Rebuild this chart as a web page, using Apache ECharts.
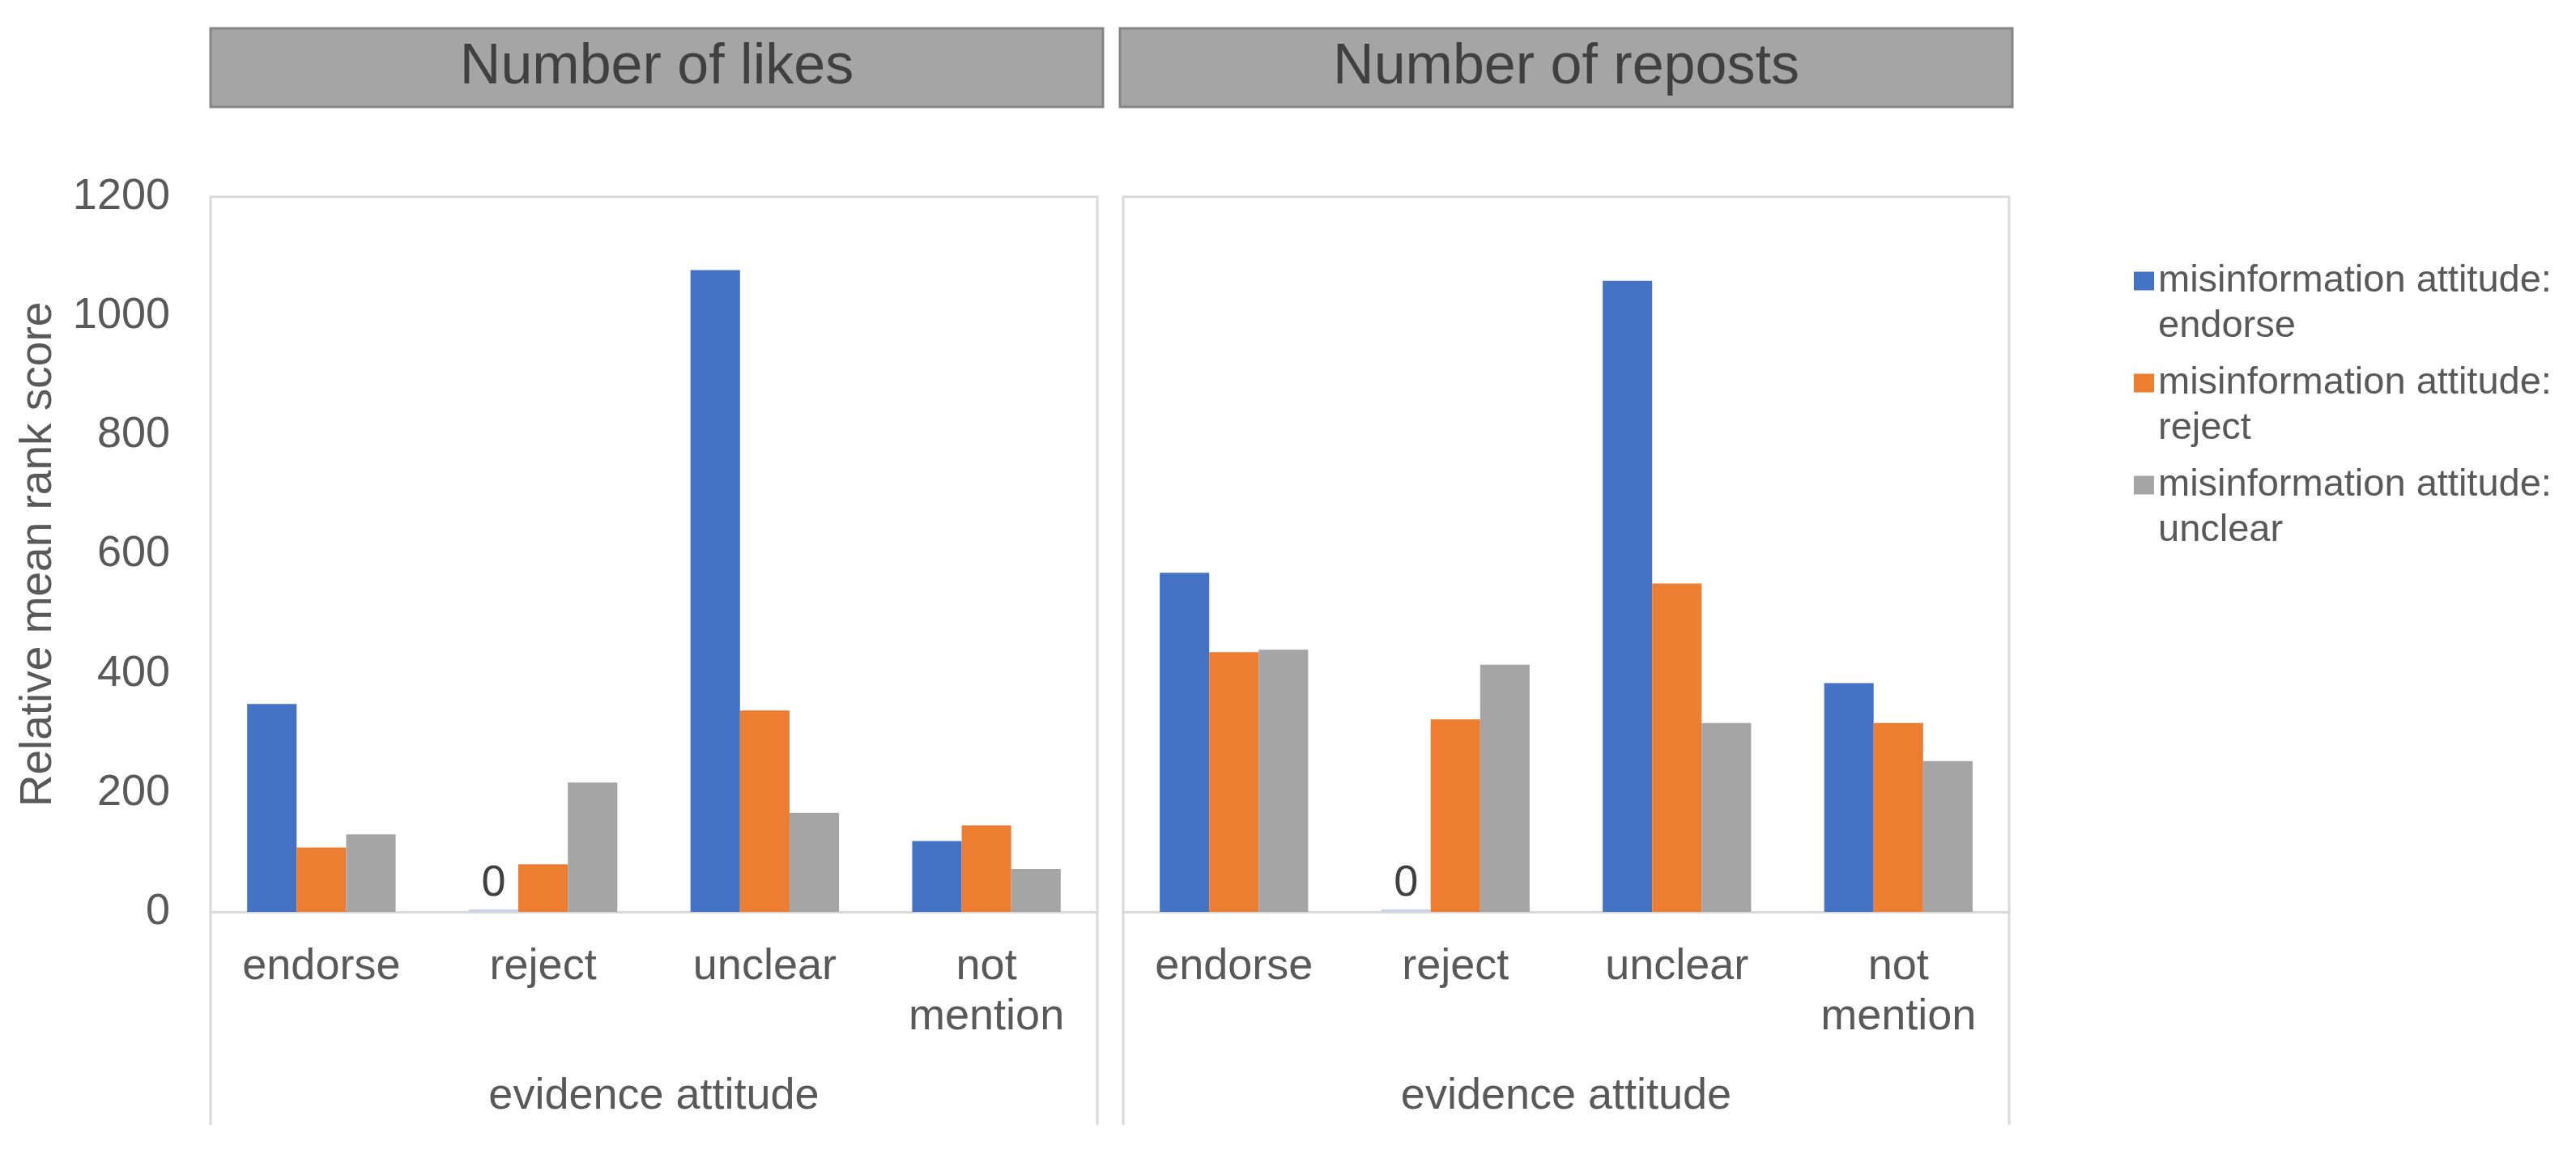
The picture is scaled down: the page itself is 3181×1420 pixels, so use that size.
<!DOCTYPE html>
<html><head><meta charset="utf-8">
<script src="https://cdn.jsdelivr.net/npm/echarts@6/dist/echarts.min.js"></script>
<style>html,body{margin:0;padding:0;background:#fff}#c{width:3181px;height:1420px}</style>
</head><body><div id="c"></div>
<script>
// ---- data ----
const categories = ['endorse', 'reject', 'unclear', 'not mention'];
const seriesNames = ['misinformation attitude: endorse', 'misinformation attitude: reject', 'misinformation attitude: unclear'];
const panelTitles = ['Number of likes', 'Number of reposts'];
const likesEndorse = [349, 0, 1077, 119];
const likesReject = [108, 80, 338, 145];
const likesUnclear = [130, 217, 166, 72];
const repostsEndorse = [569, 0, 1059, 384];
const repostsReject = [436, 323, 551, 317];
const repostsUnclear = [440, 415, 317, 253];
const yMin = 0, yMax = 1200, yInterval = 200;
const yAxisName = 'Relative mean rank score';
const xAxisName = 'evidence attitude';

// ---- styles ----
const FONT = '"Liberation Sans", Arial, sans-serif';
const colors = ['#4472c4', '#ed7d31', '#a5a5a5'];
const txt = '#595959';
const frameColor = '#d9d9d9';

function mkSeries(name, values, idx, color) {
  return {
    type: 'bar', name, xAxisIndex: idx, yAxisIndex: idx,
    barGap: '0%', barCategoryGap: '33%', barMinHeight: 3,
    itemStyle: { color },
    label: { show: false, position: 'top', distance: 5, fontSize: 54, fontFamily: FONT, color: '#404040' },
    data: values.map(v => v === 0 ? { value: 0, label: { show: true }, itemStyle: { color: '#c5d3ee' } } : v)
  };
}

function mkX(idx) {
  return {
    type: 'category', gridIndex: idx, data: categories,
    axisLine: { show: true, lineStyle: { color: frameColor, width: 3 } },
    axisTick: { show: false },
    axisLabel: { interval: 0, margin: 37, fontSize: 54, lineHeight: 62, color: txt, fontFamily: FONT,
      formatter: v => v.replace(' ', '\n') },
    name: xAxisName, nameLocation: 'middle', nameGap: 197,
    nameTextStyle: { fontSize: 54, lineHeight: 62, color: txt, fontFamily: FONT }
  };
}
function mkY(idx) {
  const a = {
    type: 'value', gridIndex: idx, min: yMin, max: yMax, interval: yInterval,
    axisLine: { show: false }, axisTick: { show: false }, splitLine: { show: false },
    axisLabel: { show: idx === 0, margin: 50, fontSize: 54, color: txt, fontFamily: FONT,
      formatter: v => String(v) }
  };
  if (idx === 0) {
    a.name = yAxisName; a.nameLocation = 'middle'; a.nameGap = 185;
    a.nameTextStyle = { fontSize: 55, lineHeight: 55, color: txt, fontFamily: FONT };
  }
  return a;
}

const frames = [[260, 1355], [1387, 2481]];
const boxes = [[260, 1362], [1383, 2485]];
const graphic = [];
frames.forEach(f => graphic.push({
  type: 'polyline', z: -1, silent: true,
  shape: { points: [[f[0], 1389], [f[0], 243], [f[1], 243], [f[1], 1389]] },
  style: { stroke: frameColor, lineWidth: 3, fill: null }
}));
boxes.forEach((b, i) => {
  graphic.push({ type: 'rect', silent: true, shape: { x: b[0], y: 35, width: b[1] - b[0], height: 97 },
    style: { fill: '#a5a5a5', stroke: '#858585', lineWidth: 3 } });
  graphic.push({ type: 'text', silent: true, x: (b[0] + b[1]) / 2, y: 84,
    style: { text: panelTitles[i], font: '70px ' + FONT, fill: '#404040', align: 'center', verticalAlign: 'middle' } });
});

const option = {
  animation: false,
  backgroundColor: '#ffffff',
  textStyle: { fontFamily: FONT },
  grid: [
    { left: 260, top: 243, width: 1095, height: 883, outerBoundsMode: 'none', containLabel: false },
    { left: 1387, top: 243, width: 1094, height: 883, outerBoundsMode: 'none', containLabel: false }
  ],
  xAxis: [mkX(0), mkX(1)],
  yAxis: [mkY(0), mkY(1)],
  legend: {
    orient: 'vertical', left: 2635, top: 263, padding: 0, itemGap: -42,
    itemWidth: 25, itemHeight: 23, icon: 'rect',
    data: seriesNames,
    textStyle: { fontSize: 47, lineHeight: 56, color: txt, fontFamily: FONT },
    formatter: n => '\n' + n.replace(': ', ':\n')
  },
  graphic,
  series: [
    mkSeries(seriesNames[0], likesEndorse, 0, colors[0]),
    mkSeries(seriesNames[1], likesReject, 0, colors[1]),
    mkSeries(seriesNames[2], likesUnclear, 0, colors[2]),
    mkSeries(seriesNames[0], repostsEndorse, 1, colors[0]),
    mkSeries(seriesNames[1], repostsReject, 1, colors[1]),
    mkSeries(seriesNames[2], repostsUnclear, 1, colors[2])
  ]
};
const chart = echarts.init(document.getElementById('c'), null, { renderer: 'canvas' });
chart.setOption(option);
</script></body></html>
